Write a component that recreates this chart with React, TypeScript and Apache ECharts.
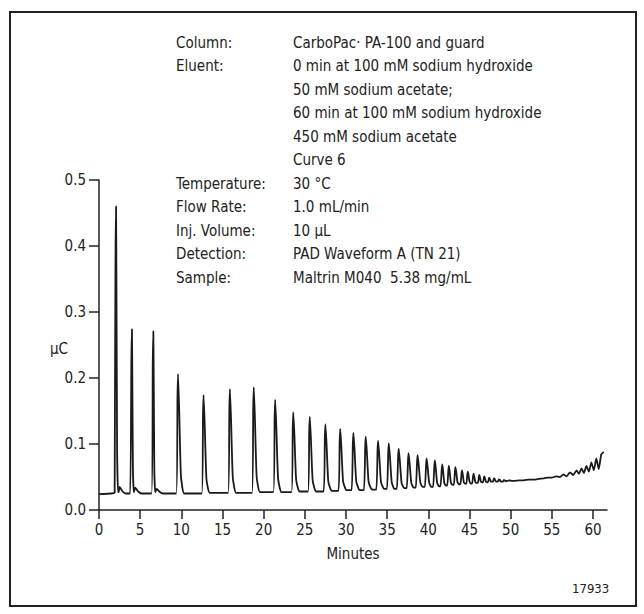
import { useEffect, useRef } from 'react';
import * as echarts from 'echarts';

// peak apex times (min) and heights (µC)
const peakTimes = [2.07, 2.5, 4.0, 4.4, 6.6, 7.0, 9.6, 12.7, 15.9, 18.8, 21.4, 23.6, 25.6, 27.5, 29.3, 30.9, 32.4, 33.9, 35.2, 36.4, 37.6, 38.7, 39.8, 40.8, 41.7, 42.5, 43.3, 44.1, 44.8, 45.5, 46.2, 46.8, 47.4, 48.0, 48.6, 49.2, 49.8];
const peakHeights = [0.46, 0.035, 0.274, 0.034, 0.271, 0.032, 0.206, 0.174, 0.183, 0.186, 0.167, 0.148, 0.141, 0.130, 0.123, 0.117, 0.111, 0.105, 0.101, 0.093, 0.086, 0.083, 0.078, 0.075, 0.069, 0.067, 0.065, 0.060, 0.058, 0.055, 0.053, 0.051, 0.049, 0.048, 0.047, 0.046, 0.045];
// trough value after each peak
const troughValues = [0.027, 0.025, 0.027, 0.025, 0.027, 0.025, 0.025, 0.026, 0.026, 0.027, 0.027, 0.028, 0.028, 0.029, 0.030, 0.030, 0.031, 0.032, 0.032, 0.033, 0.034, 0.035, 0.035, 0.036, 0.037, 0.038, 0.039, 0.040, 0.040, 0.041, 0.042, 0.042, 0.043, 0.043, 0.043, 0.044, 0.044];
// noisy drift after the last peak
const tailTimes = [50.4, 51.0, 51.6, 52.2, 52.8, 53.4, 54.0, 54.5, 55.0, 55.5, 56.0, 56.4, 56.8, 57.2, 57.6, 58.0, 58.3, 58.6, 58.9, 59.2, 59.5, 59.8, 60.1, 60.4, 60.7, 61.0, 61.3];
const tailValues = [0.044, 0.045, 0.045, 0.046, 0.046, 0.047, 0.048, 0.049, 0.049, 0.051, 0.050, 0.054, 0.051, 0.057, 0.053, 0.060, 0.055, 0.063, 0.056, 0.067, 0.058, 0.072, 0.060, 0.078, 0.062, 0.084, 0.088];
const startTimes = [0, 1.5, 1.9];
const startValues = [0.024, 0.025, 0.026];

const labelRows = ['Column:', 'Eluent:', '', '', '', '', 'Temperature:', 'Flow Rate:', 'Inj. Volume:', 'Detection:', 'Sample:'];
const valueRows = ['CarboPac\u00b7 PA-100 and guard', '0 min at 100 mM sodium hydroxide', '50 mM sodium acetate;', '60 min at 100 mM sodium hydroxide', '450 mM sodium acetate', 'Curve 6', '30 \u00b0C', '1.0 mL/min', '10 \u00b5L', 'PAD Waveform A (TN 21)', 'Maltrin M040  5.38 mg/mL'];

const FONT = '"DejaVu Sans Condensed", "Liberation Sans Narrow", sans-serif';
const INK = '#222';

function buildTrace(): number[][] {
  const pts: number[][] = startTimes.map((t, i) => [t, startValues[i]]);
  for (let i = 0; i < peakTimes.length; i++) {
    const t = peakTimes[i];
    const prevGap = i === 0 ? 1 : t - peakTimes[i - 1];
    const nextGap = i === peakTimes.length - 1 ? 1 : peakTimes[i + 1] - t;
    const prevTrough = i === 0 ? startValues[startValues.length - 1] : troughValues[i - 1];
    const h = peakHeights[i];
    pts.push([t - Math.min(0.22, prevGap * 0.25), prevTrough]);
    pts.push([t - Math.min(0.07, prevGap * 0.08), prevTrough + (h - prevTrough) * 0.8]);
    pts.push([t, h]);
    pts.push([t + Math.min(0.14, nextGap * 0.12), prevTrough + (h - prevTrough) * 0.7]);
    pts.push([t + Math.min(0.35, nextGap * 0.3), prevTrough + (h - prevTrough) * 0.15]);
    pts.push([t + Math.min(0.75, nextGap * 0.55), troughValues[i]]);
  }
  tailTimes.forEach((t, i) => pts.push([t, tailValues[i]]));
  return pts;
}

export default function App() {
  const ref = useRef<HTMLDivElement>(null);
  useEffect(() => {
    if (!ref.current) return;
    const chart = echarts.init(ref.current, null, { renderer: 'svg' });
    const texts: any[] = [];
    labelRows.forEach((s, i) => {
      if (s) texts.push({ type: 'text', left: 176, top: 35 + i * 23.5, style: { text: s, font: `15px ${FONT}`, fill: INK } });
    });
    valueRows.forEach((s, i) => {
      texts.push({ type: 'text', left: 293, top: 35 + i * 23.5, style: { text: s, font: `15px ${FONT}`, fill: INK } });
    });
    chart.setOption({
      animation: false,
      grid: { left: 99, right: 37, top: 180, bottom: 104 },
      xAxis: {
        type: 'value', min: 0, max: 61.7, interval: 5,
        name: 'Minutes', nameLocation: 'middle', nameGap: 36,
        nameTextStyle: { fontFamily: FONT, fontSize: 15, color: INK },
        axisLine: { lineStyle: { color: INK, width: 1.5 } },
        axisTick: { lineStyle: { color: INK, width: 1.5 }, length: 9 },
        axisLabel: { fontFamily: FONT, fontSize: 15, color: INK, margin: 12, showMaxLabel: false },
        splitLine: { show: false },
      },
      yAxis: {
        type: 'value', min: 0, max: 0.5, interval: 0.1,
        axisLine: { show: true, lineStyle: { color: INK, width: 1.5 } },
        axisTick: { show: true, lineStyle: { color: INK, width: 1.5 }, length: 10 },
        axisLabel: { fontFamily: FONT, fontSize: 15, color: INK, margin: 13, formatter: (v: number) => v.toFixed(1) },
        splitLine: { show: false },
      },
      graphic: [
        { type: 'rect', shape: { x: 10, y: 12, width: 626, height: 594 }, style: { fill: 'none', stroke: INK, lineWidth: 2 } },
        { type: 'text', left: 50, top: 341, style: { text: '\u00b5C', font: `15px ${FONT}`, fill: INK } },
        { type: 'text', left: 572, top: 582, style: { text: '17933', font: `13px ${FONT}`, fill: INK } },
        ...texts,
      ],
      series: [{
        type: 'line', data: buildTrace(), showSymbol: false, smooth: 0.15,
        lineStyle: { color: '#1a1a1a', width: 1.8 },
      }],
    });
    return () => chart.dispose();
  }, []);
  return <div ref={ref} style={{ position: 'fixed', left: 0, top: 0, width: 644, height: 614, background: '#fff' }} />;
}
